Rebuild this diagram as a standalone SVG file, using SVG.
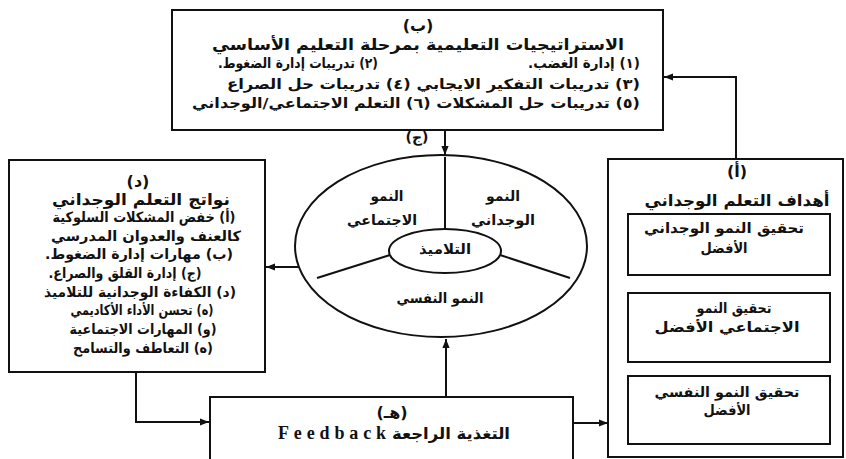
<svg xmlns="http://www.w3.org/2000/svg" width="846" height="459" viewBox="0 0 846 459">
<style>
.box{fill:#fff;stroke:#111;stroke-width:2}
.ln{fill:none;stroke:#111;stroke-width:2}
.ar{font-family:"DejaVu Sans",sans-serif;font-weight:bold;fill:#111;font-size:14px}
.hd{font-size:16px}
.en{font-family:"Liberation Serif",serif;font-weight:bold;font-size:18px;fill:#111}
</style>
<defs>
<marker id="ah" viewBox="0 0 10 10" refX="10" refY="5" markerWidth="9" markerHeight="9" markerUnits="userSpaceOnUse" orient="auto"><path d="M0,1 L10,5 L0,9 z" fill="#111"/></marker>
</defs>
<rect width="846" height="459" fill="#fff"/>

<g id="connectors">
<path class="ln" d="M736,159 V77 H664" marker-end="url(#ah)"/>
<path class="ln" d="M445,130 V155" marker-end="url(#ah)"/>
<path class="ln" d="M299,267 H266" marker-end="url(#ah)"/>
<path class="ln" d="M136,372 V422 H209" marker-end="url(#ah)"/>
<path class="ln" d="M446,397 V339" marker-end="url(#ah)"/>
<path class="ln" d="M573,423 H608" marker-end="url(#ah)"/>
</g>

<g id="node-b">
<rect class="box" x="172" y="10" width="491" height="120"/>
<text class="ar hd" x="418" y="31" text-anchor="middle" direction="rtl">(ب)</text>
<text class="ar hd" x="418" y="50" text-anchor="middle" direction="rtl" textLength="412" lengthAdjust="spacingAndGlyphs">الاستراتيجيات التعليمية بمرحلة التعليم الأساسي</text>
<text class="ar" x="640" y="68" text-anchor="start" direction="rtl" textLength="112" lengthAdjust="spacingAndGlyphs">(١) إدارة الغضب.</text>
<text class="ar" x="218" y="68" text-anchor="end" direction="rtl" textLength="160" lengthAdjust="spacingAndGlyphs">(٢) تدريبات إدارة الضغوط.</text>
<text class="ar" x="640" y="89" text-anchor="start" direction="rtl" textLength="413" lengthAdjust="spacingAndGlyphs">(٣) تدريبات التفكير الايجابي (٤) تدريبات حل الصراع</text>
<text class="ar" x="640" y="108" text-anchor="start" direction="rtl" textLength="448" lengthAdjust="spacingAndGlyphs">(٥) تدريبات حل المشكلات (٦) التعلم الاجتماعي/الوجداني</text>
<text class="ar" x="417" y="142" text-anchor="middle" direction="rtl">(ج)</text>
</g>

<g id="node-center">
<ellipse class="ln" cx="441" cy="246" rx="146" ry="91"/>
<ellipse class="ln" cx="445" cy="251" rx="56" ry="22"/>
<line class="ln" x1="445" y1="157" x2="445" y2="229"/>
<line class="ln" x1="390" y1="255" x2="317" y2="278"/>
<line class="ln" x1="500" y1="255" x2="570" y2="278"/>
<text class="ar" x="503" y="201" text-anchor="middle" direction="rtl" textLength="34" lengthAdjust="spacingAndGlyphs">النمو</text>
<text class="ar" x="503" y="225" text-anchor="middle" direction="rtl" textLength="64" lengthAdjust="spacingAndGlyphs">الوجداني</text>
<text class="ar" x="387" y="201" text-anchor="middle" direction="rtl" textLength="33" lengthAdjust="spacingAndGlyphs">النمو</text>
<text class="ar" x="382" y="225" text-anchor="middle" direction="rtl" textLength="70" lengthAdjust="spacingAndGlyphs">الاجتماعي</text>
<text class="ar" x="445" y="254" text-anchor="middle" direction="rtl" textLength="52" lengthAdjust="spacingAndGlyphs">التلاميذ</text>
<text class="ar" x="440" y="303" text-anchor="middle" direction="rtl" textLength="87" lengthAdjust="spacingAndGlyphs">النمو النفسي</text>
</g>

<g id="node-d">
<rect class="box" x="9" y="160" width="256" height="212"/>
<text class="ar hd" x="138" y="187" text-anchor="middle" direction="rtl">(د)</text>
<text class="ar hd" x="141" y="205" text-anchor="middle" direction="rtl" textLength="178" lengthAdjust="spacingAndGlyphs">نواتج التعلم الوجداني</text>
<text class="ar" x="144" y="222" text-anchor="middle" direction="rtl" textLength="183" lengthAdjust="spacingAndGlyphs">(أ) خفض المشكلات السلوكية</text>
<text class="ar" x="146" y="241" text-anchor="middle" direction="rtl" textLength="190" lengthAdjust="spacingAndGlyphs">كالعنف والعدوان المدرسي</text>
<text class="ar" x="139" y="259" text-anchor="middle" direction="rtl" textLength="188" lengthAdjust="spacingAndGlyphs">(ب) مهارات إدارة الضغوط.</text>
<text class="ar" x="125" y="278" text-anchor="middle" direction="rtl" textLength="153" lengthAdjust="spacingAndGlyphs">(ج) إدارة القلق والصراع.</text>
<text class="ar" x="140" y="297" text-anchor="middle" direction="rtl" textLength="192" lengthAdjust="spacingAndGlyphs">(د) الكفاءة الوجدانية للتلاميذ</text>
<text class="ar" x="142" y="315" text-anchor="middle" direction="rtl" textLength="143" lengthAdjust="spacingAndGlyphs">(ه) تحسن الأداء الأكاديمي</text>
<text class="ar" x="143" y="334" text-anchor="middle" direction="rtl" textLength="147" lengthAdjust="spacingAndGlyphs">(و) المهارات الاجتماعية</text>
<text class="ar" x="143" y="353" text-anchor="middle" direction="rtl" textLength="140" lengthAdjust="spacingAndGlyphs">(ه) التعاطف والتسامح</text>
</g>

<g id="node-a">
<rect class="box" x="608" y="159" width="235" height="298"/>
<text class="ar hd" x="737" y="177" text-anchor="middle" direction="rtl">(أ)</text>
<text class="ar hd" x="737" y="206" text-anchor="middle" direction="rtl" textLength="185" lengthAdjust="spacingAndGlyphs">أهداف التعلم الوجداني</text>
<rect class="box" x="628" y="214" width="202" height="61"/>
<text class="ar" x="724" y="233" text-anchor="middle" direction="rtl" textLength="160" lengthAdjust="spacingAndGlyphs">تحقيق النمو الوجداني</text>
<text class="ar" x="724" y="253" text-anchor="middle" direction="rtl" textLength="47" lengthAdjust="spacingAndGlyphs">الأفضل</text>
<rect class="box" x="628" y="293" width="202" height="69"/>
<text class="ar" x="734" y="313" text-anchor="middle" direction="rtl" textLength="75" lengthAdjust="spacingAndGlyphs">تحقيق النمو</text>
<text class="ar" x="727" y="332" text-anchor="middle" direction="rtl" textLength="145" lengthAdjust="spacingAndGlyphs">الاجتماعي الأفضل</text>
<rect class="box" x="628" y="376" width="202" height="68"/>
<text class="ar" x="727" y="397" text-anchor="middle" direction="rtl" textLength="145" lengthAdjust="spacingAndGlyphs">تحقيق النمو النفسي</text>
<text class="ar" x="727" y="415" text-anchor="middle" direction="rtl" textLength="47" lengthAdjust="spacingAndGlyphs">الأفضل</text>
</g>

<g id="node-h">
<rect class="box" x="210" y="397" width="363" height="75"/>
<text class="ar hd" x="392" y="418" text-anchor="middle" direction="rtl">(هـ)</text>
<text class="en" x="278" y="439" textLength="108" lengthAdjust="spacing">Feedback</text>
<text class="ar hd" x="510" y="439" text-anchor="start" direction="rtl" textLength="118" lengthAdjust="spacingAndGlyphs">التغذية الراجعة</text>
</g>
</svg>
